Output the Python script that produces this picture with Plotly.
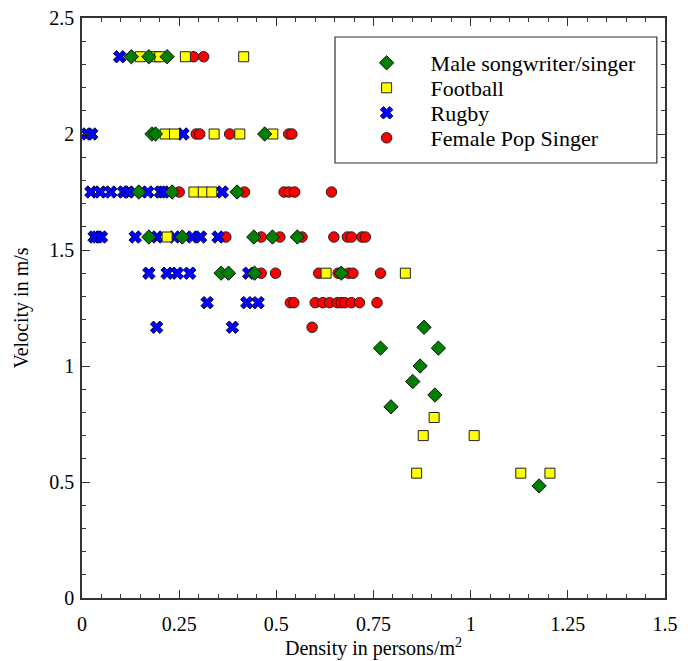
import plotly.graph_objects as go

male_x = [0.127, 0.172, 0.219,
          0.18, 0.189, 0.47,
          0.146, 0.232, 0.399,
          0.172, 0.258, 0.442, 0.49, 0.554,
          0.358, 0.377, 0.444, 0.667,
          0.88,
          0.768, 0.917, 0.87, 0.851, 0.908, 0.795, 1.176]
male_y = [2.333, 2.333, 2.333,
          2.0, 2.0, 2.0,
          1.75, 1.75, 1.75,
          1.556, 1.556, 1.556, 1.556, 1.556,
          1.4, 1.4, 1.4, 1.4,
          1.167,
          1.077, 1.077, 1.0, 0.933, 0.875, 0.824, 0.483]

football_x = [0.15, 0.19, 0.2, 0.266, 0.416,
              0.214, 0.238, 0.34, 0.406, 0.491,
              0.288, 0.312, 0.334,
              0.219,
              0.628, 0.832,
              0.906, 0.878, 1.009, 0.861, 1.129, 1.204]
football_y = [2.333, 2.333, 2.333, 2.333, 2.333,
              2.0, 2.0, 2.0, 2.0, 2.0,
              1.75, 1.75, 1.75,
              1.556,
              1.4, 1.4,
              0.778, 0.7, 0.7, 0.538, 0.538, 0.538]

rugby_x = [0.097,
           0.013, 0.025, 0.26,
           0.023, 0.047, 0.074, 0.107, 0.119, 0.169, 0.202, 0.21, 0.361,
           0.031, 0.039, 0.05, 0.137, 0.193, 0.238, 0.284, 0.305, 0.35,
           0.172, 0.219, 0.245, 0.277, 0.429,
           0.322, 0.424, 0.453,
           0.192, 0.387]
rugby_y = [2.333,
           2.0, 2.0, 2.0,
           1.75, 1.75, 1.75, 1.75, 1.75, 1.75, 1.75, 1.75, 1.75,
           1.556, 1.556, 1.556, 1.556, 1.556, 1.556, 1.556, 1.556, 1.556,
           1.4, 1.4, 1.4, 1.4, 1.4,
           1.273, 1.273, 1.273,
           1.167, 1.167]

female_x = [0.287, 0.313,
            0.294, 0.303, 0.38, 0.532, 0.54,
            0.25, 0.418, 0.52, 0.532, 0.547, 0.642,
            0.37, 0.461, 0.509, 0.566, 0.648, 0.683, 0.693, 0.72, 0.729,
            0.461, 0.498, 0.609, 0.659, 0.667, 0.686, 0.697, 0.768,
            0.536, 0.545, 0.6, 0.62, 0.637, 0.657, 0.667, 0.676, 0.693, 0.714, 0.759,
            0.592]
female_y = [2.333, 2.333,
            2.0, 2.0, 2.0, 2.0, 2.0,
            1.75, 1.75, 1.75, 1.75, 1.75, 1.75,
            1.556, 1.556, 1.556, 1.556, 1.556, 1.556, 1.556, 1.556, 1.556,
            1.4, 1.4, 1.4, 1.4, 1.4, 1.4, 1.4, 1.4,
            1.273, 1.273, 1.273, 1.273, 1.273, 1.273, 1.273, 1.273, 1.273, 1.273, 1.273,
            1.167]

x_ticks = [0, 0.25, 0.5, 0.75, 1, 1.25, 1.5]
x_ticklabels = ["0", "0.25", "0.5", "0.75", "1", "1.25", "1.5"]
y_ticks = [0, 0.5, 1, 1.5, 2, 2.5]
y_ticklabels = ["0", "0.5", "1", "1.5", "2", "2.5"]

FONT = "'Liberation Serif', 'Times New Roman', Times, serif"
AXC = "#333333"

fig = go.Figure()
fig.add_trace(go.Scatter(x=female_x, y=female_y, mode="markers", name="Female Pop Singer",
                         legend="legend4",
                         marker=dict(symbol="circle", size=10.5, color="#ff0000",
                                     line=dict(color="#202020", width=1))))
fig.add_trace(go.Scatter(x=rugby_x, y=rugby_y, mode="markers", name="Rugby",
                         legend="legend3",
                         marker=dict(symbol="x", size=11, color="#0000ff",
                                     line=dict(color="#000040", width=1))))
fig.add_trace(go.Scatter(x=football_x, y=football_y, mode="markers", name="Football",
                         legend="legend2",
                         marker=dict(symbol="square", size=10, color="#ffff00",
                                     line=dict(color="#202020", width=1))))
fig.add_trace(go.Scatter(x=male_x, y=male_y, mode="markers", name="Male songwriter/singer",
                         legend="legend",
                         marker=dict(symbol="diamond", size=11, color="#008000",
                                     line=dict(color="#101010", width=1))))

axis_common = dict(
    showgrid=False, zeroline=False, showline=True, linecolor=AXC, linewidth=1.5,
    mirror="ticks", ticks="inside", ticklen=8, tickwidth=1.2, tickcolor=AXC,
    tickfont=dict(family=FONT, size=20, color="black"), automargin=False,
    ticklabeloverflow="allow",
)

fig.update_xaxes(range=[0, 1.5], tickvals=x_ticks, ticktext=x_ticklabels,
                 ticklabelstandoff=7,
                 minor=dict(dtick=0.05, ticks="inside", ticklen=4, tickcolor=AXC, tickwidth=1),
                 title=dict(text="Density in persons/m<sup>2</sup>", font=dict(family=FONT, size=20, color="black"), standoff=3),
                 **axis_common)
fig.update_yaxes(range=[0, 2.5], tickvals=y_ticks, ticktext=y_ticklabels,
                 ticklabelstandoff=2,
                 minor=dict(dtick=0.1, ticks="inside", ticklen=4, tickcolor=AXC, tickwidth=1),
                 title=dict(text="Velocity in m/s", font=dict(family=FONT, size=20, color="black"), standoff=15),
                 **axis_common)

fig.add_shape(type="rect", xref="paper", yref="paper", x0=0.434, x1=0.986, y0=0.75, y1=0.9672,
              line=dict(color=AXC, width=1.2), fillcolor="rgba(0,0,0,0)")

leg_common = dict(x=0.447, xanchor="left", yanchor="middle",
                  font=dict(family=FONT, size=22, color="black"),
                  bgcolor="rgba(0,0,0,0)", borderwidth=0, itemwidth=78)

fig.update_layout(
    width=680, height=653,
    margin=dict(l=74, r=23, t=10, b=63),
    plot_bgcolor="white", paper_bgcolor="white",
    font=dict(family=FONT, color="black"),
    showlegend=True,
    legend=dict(y=0.9224, **leg_common),
    legend2=dict(y=0.8793, **leg_common),
    legend3=dict(y=0.8362, **leg_common),
    legend4=dict(y=0.7931, **leg_common),
)

fig.write_html("out.html")
